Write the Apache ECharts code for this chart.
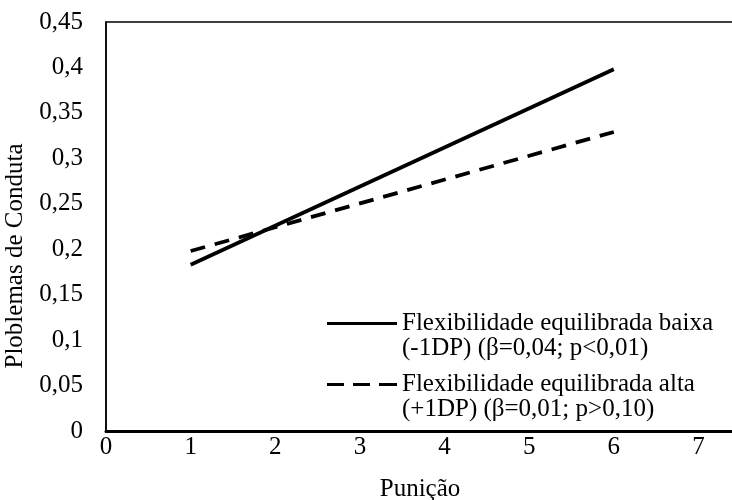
<!DOCTYPE html>
<html>
<head>
<meta charset="utf-8">
<script src="https://cdn.jsdelivr.net/npm/echarts@6/dist/echarts.min.js"></script>
<style>html,body{margin:0;padding:0;background:#fff}#c{width:732px;height:500px}</style>
</head>
<body>
<div id="c"></div>
<script>
var xValues = [1, 6];
var lowFlex = [0.183, 0.398];
var highFlex = [0.198, 0.329];
var seriesNames = [
  'Flexibilidade equilibrada baixa\n(-1DP) (β=0,04; p<0,01)',
  'Flexibilidade equilibrada alta\n(+1DP) (β=0,01; p>0,10)'
];
var xTitle = 'Punição';
var yTitle = 'Ploblemas de Conduta';

var FONT = '"Liberation Serif", "Times New Roman", serif';
var FS = 25;
var chart = echarts.init(document.getElementById('c'), null, {renderer: 'canvas'});
function pairs(ys) { return xValues.map(function (x, i) { return [x, ys[i]]; }); }
chart.setOption({
  animation: false,
  backgroundColor: '#fff',
  grid: {left: 106, right: -2, top: 22, bottom: 69, show: true, borderColor: '#000', borderWidth: 1.5,
         containLabel: false, outerBoundsMode: 'none'},
  xAxis: {
    type: 'value', min: 0, max: 7.42, interval: 1,
    name: xTitle, nameLocation: 'middle', nameGap: 46,
    nameTextStyle: {fontFamily: FONT, fontSize: FS, color: '#000'},
    axisLine: {show: true, lineStyle: {color: '#000', width: 3}},
    axisTick: {show: false}, splitLine: {show: false},
    axisLabel: {fontFamily: FONT, fontSize: FS, color: '#000', margin: 4,
      formatter: function (v) { return Math.abs(v - Math.round(v)) < 1e-9 ? String(Math.round(v)) : ''; }}
  },
  yAxis: {
    type: 'value', min: 0, max: 0.45, interval: 0.05,
    name: yTitle, nameLocation: 'middle', nameGap: 77, nameRotate: 90,
    nameTextStyle: {fontFamily: FONT, fontSize: FS, color: '#000', padding: [0, 59, 0, 0]},
    axisLine: {show: true, lineStyle: {color: '#000', width: 1.5}},
    axisTick: {show: false}, splitLine: {show: false},
    axisLabel: {fontFamily: FONT, fontSize: FS, color: '#000', margin: 23,
      formatter: function (v) { return String(+v.toFixed(2)).replace('.', ','); }}
  },
  legend: {
    show: true, padding: 0,
    orient: 'vertical', left: 327, top: 286, itemWidth: 70, itemHeight: 3, itemGap: -14,
    data: [
      {name: seriesNames[0], icon: 'path://M0,0h70v3h-70z'},
      {name: seriesNames[1], icon: 'path://M0,0h17v3h-17z M26,0h17v3h-17z M52,0h18v3h-18z'}
    ],
    itemStyle: {color: '#000', borderWidth: 0},
    formatter: function (n) { return '\n' + n; },
    textStyle: {fontFamily: FONT, fontSize: FS, color: '#000', lineHeight: 25}
  },
  series: [
    {name: seriesNames[0], type: 'line', data: pairs(lowFlex), symbol: 'none', showSymbol: false,
     lineStyle: {color: '#000', width: 3.8, type: 'solid', cap: 'butt'}, itemStyle: {color: '#000'}},
    {name: seriesNames[1], type: 'line', data: pairs(highFlex), symbol: 'none', showSymbol: false,
     lineStyle: {color: '#000', width: 3.8, type: [15, 10], cap: 'butt'}, itemStyle: {color: '#000'}}
  ]
});
</script>
</body>
</html>
